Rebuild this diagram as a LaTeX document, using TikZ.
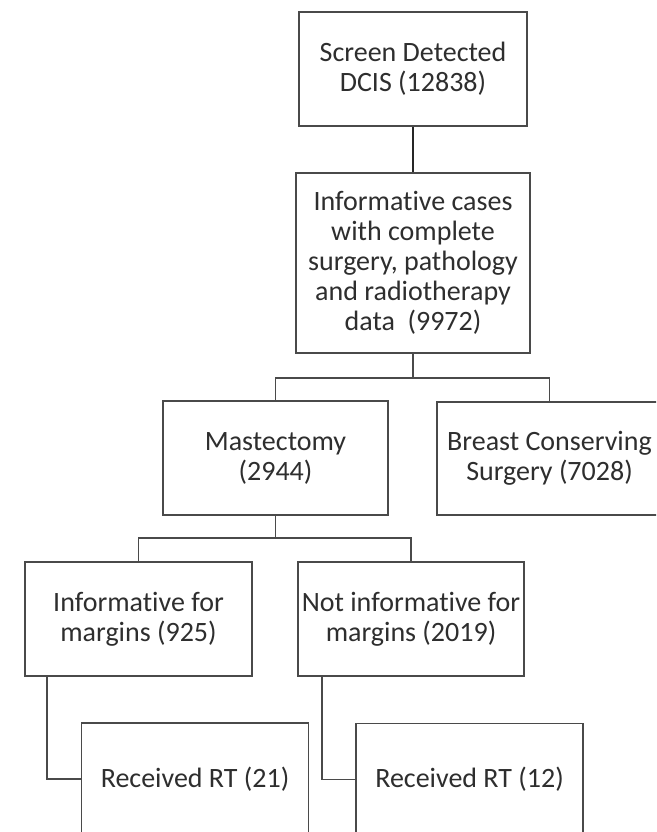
\documentclass[tikz,border=0pt]{standalone}
\usepackage{fontspec}
\setmainfont[Ligatures=NoCommon]{Carlito}
\definecolor{txt}{HTML}{2E2E2E}
\definecolor{edge}{HTML}{4A4A4A}
\begin{document}
\begin{tikzpicture}[x=1pt,y=-1pt,
  box/.style={draw=edge, line width=1.8pt, fill=white, inner sep=0pt, align=center,
    text=txt, font=\fontsize{28}{30}\selectfont},
  link/.style={draw=edge, line width=1.8pt},
  toplink/.style={draw=black!85, line width=2.8pt}]
\useasboundingbox (0,0) rectangle (656,832);
\clip (0,0) rectangle (656,832);
\fill[white] (0,0) rectangle (656,832);
\node[box, minimum width=228pt, minimum height=114pt] (n1) at (413,69) {Screen Detected\\DCIS (12838)};
\node[box, minimum width=234pt, minimum height=180pt] (n2) at (413,263) {Informative cases\\with complete\\surgery, pathology\\and radiotherapy\\data\ \ (9972)};
\node[box, minimum width=225pt, minimum height=114pt] (n3) at (275.5,458) {Mastectomy\\(2944)};
\node[box, minimum width=225pt, minimum height=113pt] (n4) at (549.5,458.5) {Breast Conserving\\Surgery (7028)};
\node[box, minimum width=227pt, minimum height=114pt] (n5) at (138.5,619) {Informative for\\margins (925)};
\node[box, minimum width=226pt, minimum height=114pt] (n6) at (411,619) {Not informative for\\margins (2019)};
\node[box, minimum width=227pt, minimum height=112pt] (n7) at (195,779) {Received RT (21)};
\node[box, minimum width=227pt, minimum height=112pt] (n8) at (469.5,779.5) {Received RT (12)};
\coordinate (j1) at (413,378);
\coordinate (j2) at (275.5,538);
\draw[toplink] (n1.south) -- (n2.north);
\draw[link] (n2.south) -- (j1);
\draw[link] (n3.north) |- (j1) -| (n4.north);
\draw[link] (n3.south) -- (j2);
\draw[link] (n5.north) |- (j2) -| (n6.north);
\draw[link] ([xshift=23pt]n5.south west) |- (n7.west);
\draw[link] ([xshift=25pt]n6.south west) |- (n8.west);
\end{tikzpicture}
\end{document}
